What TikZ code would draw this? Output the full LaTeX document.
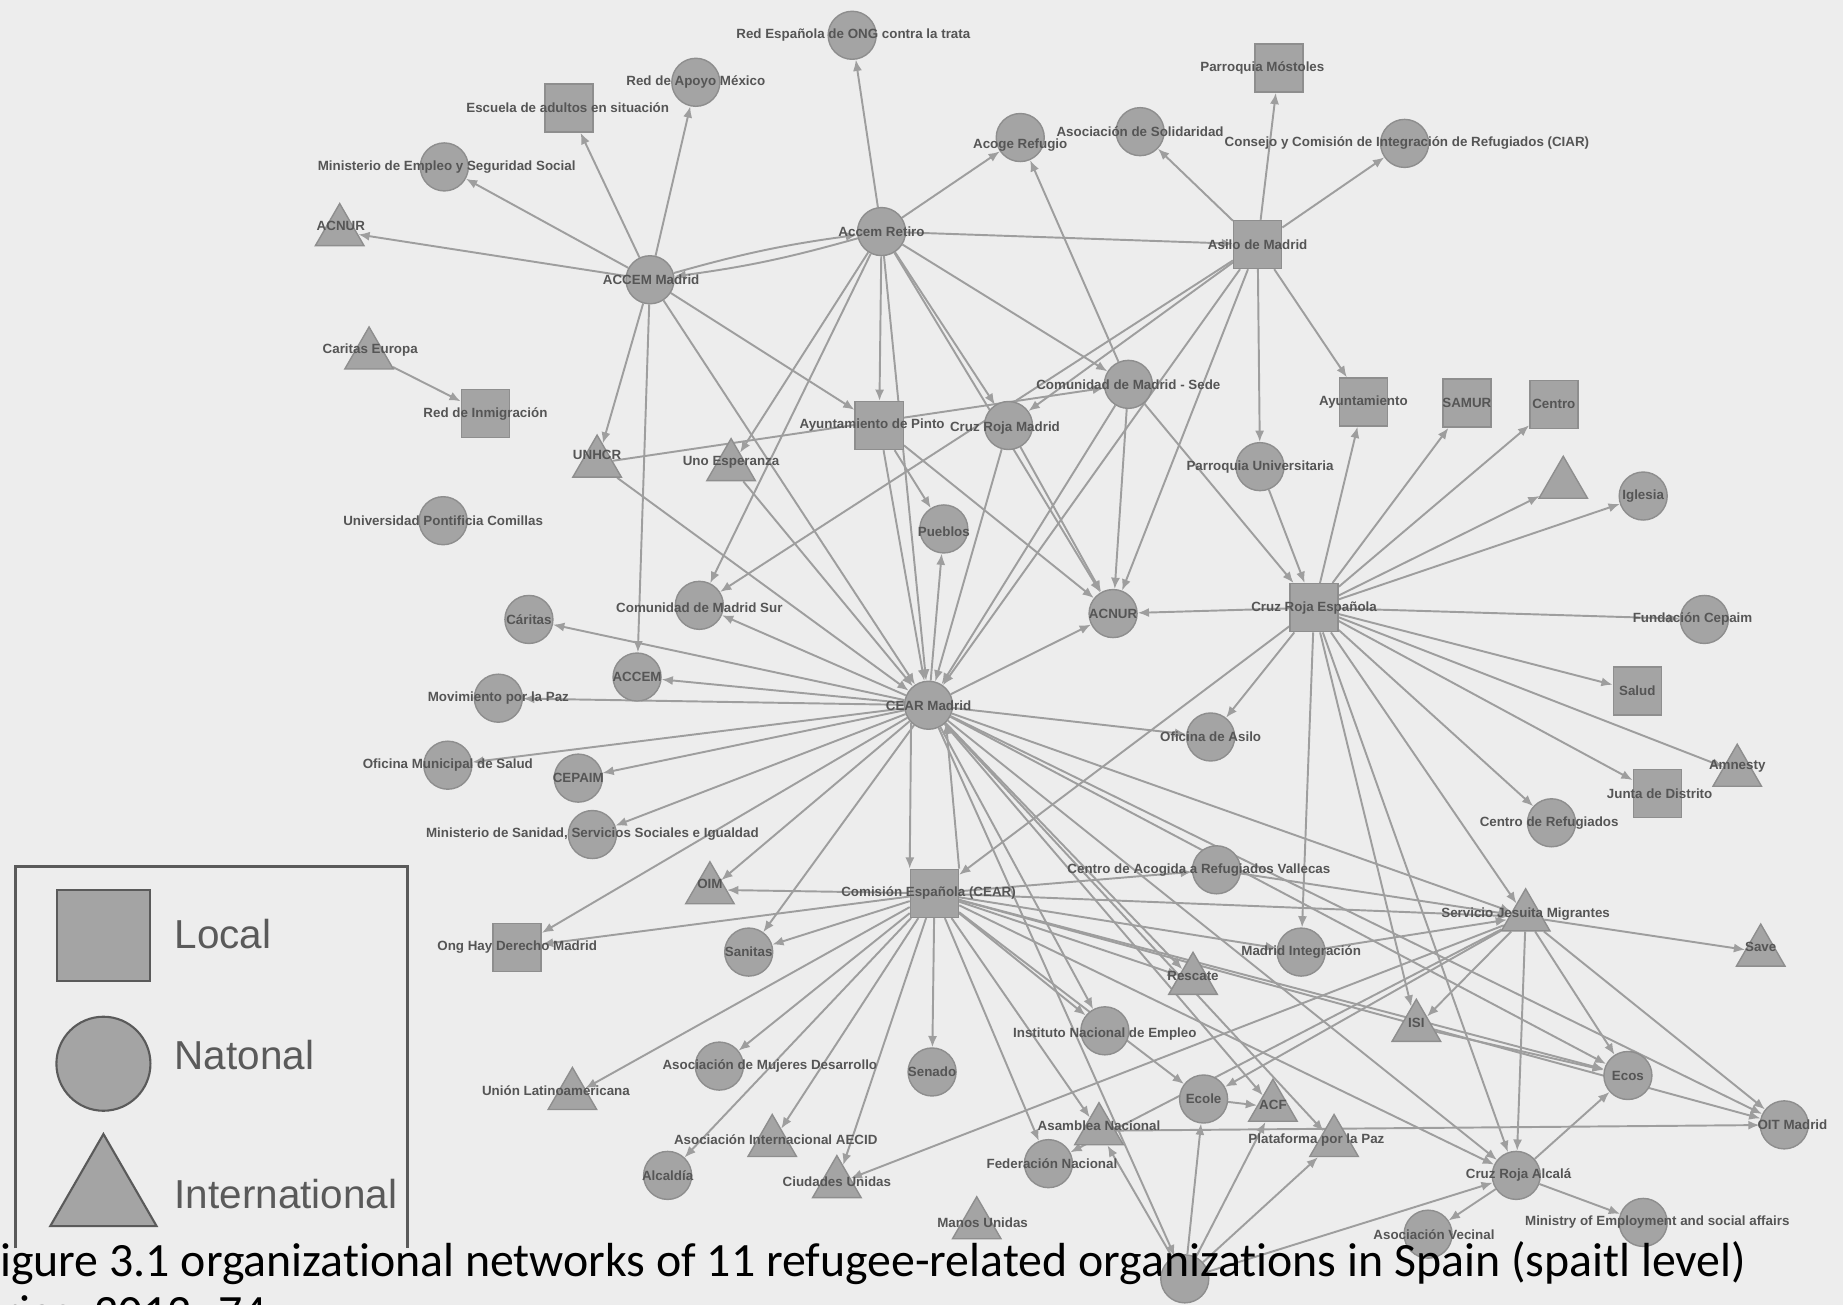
\documentclass[tikz,border=0pt]{standalone}
\usepackage{fontspec}
\setmainfont{Liberation Sans}
\newfontfamily\capfont[Ligatures=NoCommon]{Carlito}
\usetikzlibrary{shapes.geometric,arrows.meta,backgrounds}
\definecolor{bgc}{HTML}{EDEDED}
\definecolor{nodefill}{HTML}{A4A4A4}
\definecolor{nodedraw}{HTML}{8E8E8E}
\definecolor{edgec}{HTML}{9E9E9E}
\definecolor{labc}{HTML}{555555}
\definecolor{legc}{HTML}{5A5A5A}
\tikzset{
  loc/.style={rectangle, fill=nodefill, draw=nodedraw, line width=0.4pt, minimum size=0.48cm, inner sep=0pt},
  nat/.style={circle, fill=nodefill, draw=nodedraw, line width=0.4pt, minimum size=0.48cm, inner sep=0pt},
  intl/.style={regular polygon, regular polygon sides=3, fill=nodefill, draw=nodedraw, line width=0.4pt, minimum size=0.56cm, inner sep=0pt},
  lab/.style={font=\fontsize{3.8}{4.5}\selectfont\bfseries, text=labc, inner sep=0pt},
  e/.style={draw=edgec, line width=0.55pt, -{Latex[length=3.2pt,width=2.6pt]}},
  legtext/.style={font=\fontsize{11.5}{13}\selectfont, text=legc, anchor=west, inner sep=0pt},
}
\begin{document}
\begin{tikzpicture}[x=0.011754cm, y=-0.011754cm]
\useasboundingbox (0,0) rectangle (1568,1110);
% ---------- nodes ----------
\node[nat] (n1) at (725,30) {};
\node[nat] (n2) at (592,70) {};
\node[loc] (n3) at (484,92) {};
\node[nat] (n4) at (378,142) {};
\node[intl] (n5) at (289,197) {};
\node[nat] (h4) at (553,238) {};
\node[nat] (h5) at (750,197) {};
\node[nat] (n8) at (868,117) {};
\node[nat] (n9) at (970,112) {};
\node[nat] (n10) at (1195,122) {};
\node[loc] (n11) at (1088,58) {};
\node[loc] (h6) at (1070,208) {};
\node[intl] (n13) at (314,302) {};
\node[loc] (n14) at (413,352) {};
\node[intl] (n15) at (508,394) {};
\node[intl] (n16) at (622,397) {};
\node[loc] (n17) at (748,362) {};
\node[nat] (n18) at (858,362) {};
\node[nat] (n19) at (960,327) {};
\node[loc] (n20) at (1160,342) {};
\node[loc] (n21) at (1248,343) {};
\node[loc] (n22) at (1322,344) {};
\node[intl] (n24) at (1330,412) {};
\node[nat] (n23) at (1072,397) {};
\node[nat] (n25) at (1398,422) {};
\node[nat] (n26) at (377,443) {};
\node[nat] (n27) at (803,450) {};
\node[nat] (n28) at (947,522) {};
\node[loc] (h3) at (1118,517) {};
\node[nat] (n30) at (1450,527) {};
\node[nat] (n31) at (450,527) {};
\node[nat] (n32) at (595,515) {};
\node[nat] (n33) at (542,576) {};
\node[nat] (n34) at (424,594) {};
\node[nat] (h1) at (790,600) {};
\node[loc] (n36) at (1393,588) {};
\node[nat] (n37) at (1030,627) {};
\node[nat] (n38) at (381,651) {};
\node[nat] (n39) at (492,662) {};
\node[nat] (n40) at (504,710) {};
\node[intl] (n41) at (1478,657) {};
\node[loc] (n42) at (1410,675) {};
\node[nat] (n43) at (1320,700) {};
\node[nat] (n44) at (1035,740) {};
\node[loc] (h2) at (795,760) {};
\node[intl] (h7) at (1298,780) {};
\node[intl] (n47) at (604,757) {};
\node[loc] (n48) at (440,806) {};
\node[nat] (n49) at (637,810) {};
\node[nat] (n50) at (1107,810) {};
\node[intl] (n51) at (1015,834) {};
\node[intl] (n52) at (1498,810) {};
\node[nat] (n53) at (940,877) {};
\node[intl] (n54) at (1205,874) {};
\node[nat] (n55) at (1385,915) {};
\node[nat] (n56) at (1518,957) {};
\node[nat] (n57) at (612,907) {};
\node[intl] (n58) at (487,932) {};
\node[nat] (n59) at (793,912) {};
\node[nat] (n60) at (1024,935) {};
\node[intl] (n61) at (1083,942) {};
\node[intl] (n62) at (935,962) {};
\node[intl] (n63) at (1135,972) {};
\node[intl] (n64) at (657,972) {};
\node[nat] (n65) at (892,990) {};
\node[nat] (n66) at (568,1000) {};
\node[intl] (n67) at (712,1007) {};
\node[nat] (h8) at (1290,1000) {};
\node[intl] (n69) at (831,1042) {};
\node[nat] (n70) at (1398,1040) {};
\node[nat] (n71) at (1215,1050) {};
\node[nat] (n72) at (1008,1088) {};
% ---------- edges ----------
\begin{pgfonlayer}{background}
\fill[bgc] (0,0) rectangle (1568,1110);
\foreach \s/\t in {h4/n5,h4/n4,h4/n3,h4/n2,h4/n15,h4/n33,h4/n17,h4/h1,
  h5/n1,h5/n8,h5/h6,h5/n17,h5/n18,h5/n19,h5/n32,h5/n28,h5/h1,h5/n16,
  h6/n11,h6/n9,h6/n10,h6/n20,h6/n23,h6/h1,h6/n18,h6/n32,h6/n28,
  n19/n8,n15/n19,n13/n14,n15/h1,n16/h1,n17/n27,n17/n28,n17/h1,n18/h1,n18/n28,
  n19/n28,n19/h1,n19/h3,n23/h3,
  h3/n20,h3/n21,h3/n22,h3/n24,h3/n25,h3/n30,h3/n36,h3/n41,h3/n42,h3/n43,h3/h7,
  h3/n50,h3/n54,h3/h8,h3/n37,h3/h2,h3/n28,
  h1/n31,h1/n33,h1/n34,h1/n38,h1/n39,h1/n40,h1/n32,h1/n27,h1/n37,h1/n28,h1/n47,
  h1/n48,h1/n49,h1/h7,h1/n55,h1/n56,h1/h8,h1/n72,h1/n51,h1/n53,h1/n61,h1/n63,
  h2/n48,h2/n47,h2/n49,h2/n57,h2/n58,h2/n59,h2/n64,h2/n66,h2/n67,h2/n65,h2/n53,
  h2/n62,h2/n44,h2/n50,h2/h7,h2/n56,h2/n55,h2/h8,h2/n51,h2/n60,
  h7/n52,h7/h8,h7/n56,h7/n55,h7/n67,h7/n65,h7/n60,h7/n54,
  h8/n55,h8/n70,h8/n71,n72/h8,n72/n62,n72/n60,n72/n63,n72/n61,
  n62/n56,n60/n61,n54/n55,n44/h7,n50/h7}
  \draw[e] (\s) -- (\t);
\draw[e] (h4) to[bend left=4] (h5);
\draw[e] (h5) to[bend left=4] (h4);
\draw[e] (h1.south west) -- (h2.north west);
\draw[e] (h2.north east) -- (h1.south east);
\end{pgfonlayer}
% ---------- labels ----------
\node[lab] (t1) at (726,30) {Red Española de ONG contra la trata};
\node[lab] (t2) at (592,70) {Red de Apoyo México};
\node[lab] (t3) at (483,92) {Escuela de adultos en situación};
\node[lab] (t4) at (380,142) {Ministerio de Empleo y Seguridad Social};
\node[lab] (t5) at (290,192) {ACNUR};
\node[lab] (th4) at (554,238) {ACCEM Madrid};
\node[lab] (th5) at (750,197) {Accem Retiro};
\node[lab] (t8) at (868,123) {Acoge Refugio};
\node[lab] (t9) at (970,112) {Asociación de Solidaridad};
\node[lab] (t10) at (1197,122) {Consejo y Comisión de Integración de Refugiados (CIAR)};
\node[lab] (t11) at (1074,58) {Parroquia Móstoles};
\node[lab] (th6) at (1070,208) {Asilo de Madrid};
\node[lab] (t13) at (315,298) {Caritas Europa};
\node[lab] (t14) at (413,352) {Red de Inmigración};
\node[lab] (t15) at (508,387) {UNHCR};
\node[lab] (t16) at (622,393) {Uno Esperanza};
\node[lab] (t17) at (742,362) {Ayuntamiento de Pinto};
\node[lab] (t18) at (855,364) {Cruz Roja Madrid};
\node[lab] (t19) at (960,327) {Comunidad de Madrid - Sede};
\node[lab] (t20) at (1160,342) {Ayuntamiento};
\node[lab] (t21) at (1248,343) {SAMUR};
\node[lab] (t22) at (1322,344) {Centro};
\node[lab] (t23) at (1072,397) {Parroquia Universitaria};
\node[lab] (t25) at (1398,422) {Iglesia};
\node[lab] (t26) at (377,443) {Universidad Pontificia Comillas};
\node[lab] (t27) at (803,452) {Pueblos};
\node[lab] (t28) at (947,522) {ACNUR};
\node[lab] (th3) at (1118,517) {Cruz Roja Española};
\node[lab] (t30) at (1440,527) {Fundación Cepaim};
\node[lab] (t31) at (450,527) {Cáritas};
\node[lab] (t32) at (595,517) {Comunidad de Madrid Sur};
\node[lab] (t33) at (542,576) {ACCEM};
\node[lab] (t34) at (424,594) {Movimiento por la Paz};
\node[lab] (th1) at (790,600) {CEAR Madrid};
\node[lab] (t36) at (1393,588) {Salud};
\node[lab] (t37) at (1030,627) {Oficina de Asilo};
\node[lab] (t38) at (381,651) {Oficina Municipal de Salud};
\node[lab] (t39) at (492,662) {CEPAIM};
\node[lab] (t40) at (504,710) {Ministerio de Sanidad, Servicios Sociales e Igualdad};
\node[lab] (t41) at (1478,652) {Amnesty};
\node[lab] (t42) at (1412,675) {Junta de Distrito};
\node[lab] (t43) at (1318,700) {Centro de Refugiados};
\node[lab] (t44) at (1020,740) {Centro de Acogida a Refugiados Vallecas};
\node[lab] (th2) at (790,760) {Comisión Española (CEAR)};
\node[lab] (th7) at (1298,778) {Servicio Jesuita Migrantes};
\node[lab] (t47) at (604,752) {OIM};
\node[lab] (t48) at (440,806) {Ong Hay Derecho Madrid};
\node[lab] (t49) at (637,810) {Sanitas};
\node[lab] (t50) at (1107,810) {Madrid Integración};
\node[lab] (t51) at (1015,830) {Rescate};
\node[lab] (t52) at (1498,806) {Save};
\node[lab] (t53) at (940,880) {Instituto Nacional de Empleo};
\node[lab] (t54) at (1205,870) {ISI};
\node[lab] (t55) at (1385,915) {Ecos};
\node[lab] (t56) at (1525,957) {OIT Madrid};
\node[lab] (t57) at (655,907) {Asociación de Mujeres Desarrollo};
\node[lab] (t58) at (473,928) {Unión Latinoamericana};
\node[lab] (t59) at (793,912) {Senado};
\node[lab] (t60) at (1024,935) {Ecole};
\node[lab] (t61) at (1083,940) {ACF};
\node[lab] (t62) at (935,958) {Asamblea Nacional};
\node[lab] (t63) at (1120,970) {Plataforma por la Paz};
\node[lab] (t64) at (660,970) {Asociación Internacional AECID};
\node[lab] (t65) at (895,990) {Federación Nacional};
\node[lab] (t66) at (568,1000) {Alcaldía};
\node[lab] (t67) at (712,1005) {Ciudades Unidas};
\node[lab] (th8) at (1292,1000) {Cruz Roja Alcalá};
\node[lab] (t69) at (836,1040) {Manos Unidas};
\node[lab] (t70) at (1410,1040) {Ministry of Employment and social affairs};
\node[lab] (t71) at (1220,1050) {Asociación Vecinal};
% ---------- legend ----------
\draw[draw=legc, line width=0.8pt] (13,1062) -- (13,737) -- (347,737) -- (347,1062);
\node[rectangle, fill=nodefill, draw=legc, line width=0.6pt, minimum width=0.93cm, minimum height=0.91cm, inner sep=0pt] (ls) at (88,796) {};
\node[circle, fill=nodefill, draw=legc, line width=0.6pt, minimum size=0.94cm, inner sep=0pt] (lc) at (88,905) {};
\node[isosceles triangle, isosceles triangle apex angle=60, shape border rotate=90, fill=nodefill, draw=legc, line width=0.6pt, minimum height=0.92cm, inner sep=0pt] (lt) at (88,1017) {};
\node[legtext] (lg1) at (148,795) {Local};
\node[legtext] (lg2) at (148,898) {Natonal};
\node[legtext] (lg3) at (148,1016) {International};
% ---------- caption ----------
\node[font=\capfont\fontsize{13.6}{16}\selectfont, anchor=base west, inner sep=0pt] (cap) at (-19,1086) {Figure 3.1 organizational networks of 11 refugee-related organizations in Spain (spaitl level)};
\node[font=\capfont\fontsize{13.6}{16}\selectfont, anchor=base west, inner sep=0pt] (cap2) at (-22,1130) {Arias, 2012: 74};
\end{tikzpicture}
\end{document}
